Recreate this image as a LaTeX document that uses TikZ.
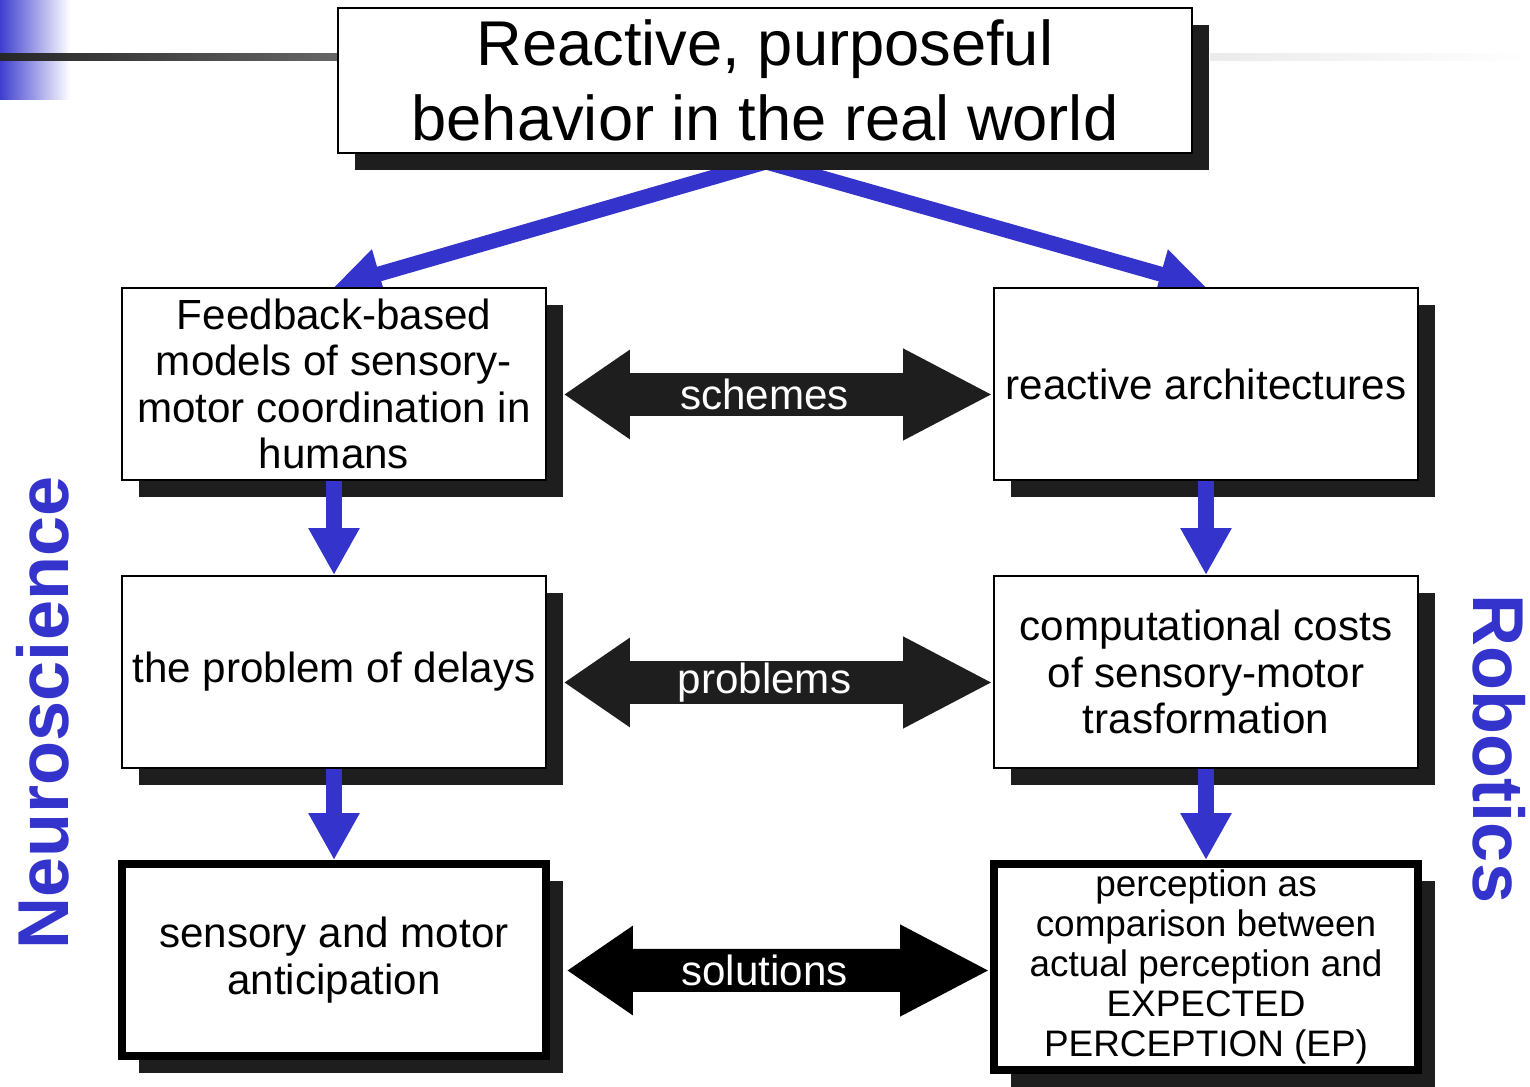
\documentclass[tikz,border=0pt]{standalone}
\usepackage{fontspec}
\setmainfont{Liberation Sans}
\usetikzlibrary{arrows.meta,shadows,backgrounds}
\definecolor{slideblue}{RGB}{52,52,204}
\definecolor{shadowgray}{RGB}{30,30,30}

\begin{document}
\begin{tikzpicture}[x=0.02cm, y=0.02cm,
  card/.style={draw=black, line width=1.1pt, fill=white, inner sep=0pt,
    minimum width=8.48cm, minimum height=3.84cm, align=center,
    font=\fontsize{24}{26.4}\selectfont,
    drop shadow={shadow xshift=0.34cm, shadow yshift=-0.34cm, fill=shadowgray, opacity=1}},
  boldcard/.style={card, line width=4.5pt},
  flow/.style={draw=slideblue, line width=0.32cm, -{Triangle[width=0.96cm, length=0.94cm]}},
  slant/.style={flow, line width=0.3cm},
  link/.style={draw=shadowgray, line width=0.86cm,
    {Triangle[width=1.7cm, length=1.32cm]}-{Triangle[width=1.7cm, length=1.8cm]}},
  linktext/.style={text=white, xshift=-0.28cm, font=\fontsize{24}{26.4}\selectfont},
  side/.style={text=slideblue, font=\fontsize{41}{45}\selectfont\bfseries}]
  \useasboundingbox (0,0) rectangle (1530,1087);

  % Slide header
  \shade[left color=slideblue!95, right color=white] (0,1087) rectangle (70,987);
  \shade[left color=black!85, right color=black!60] (0,1033) rectangle (338,1026);
  \shade[left color=black!8, right color=white] (1210,1033) rectangle (1530,1026);

  % Boxes
  \node[card, font=\fontsize{36}{43.1}\selectfont, minimum width=17.08cm, minimum height=2.9cm]
    (goal) at (765,1006.5) {Reactive, purposeful\\behavior in the real world};
  \node[card] (feedback) at (334,703) {Feedback-based\\models of sensory-\\motor coordination in\\humans};
  \node[card] (reactive) at (1206,703) {reactive architectures};
  \node[card] (delays) at (334,415) {the problem of delays};
  \node[card] (costs) at (1206,415) {computational costs\\of sensory-motor\\trasformation};
  \node[boldcard] (anticip) at (334,127) {sensory and motor\\anticipation};
  \node[boldcard, minimum height=4.12cm, font=\fontsize{21}{22.7}\selectfont]
    (expect) at (1206,120) {perception as\\comparison between\\actual perception and\\EXPECTED\\PERCEPTION (EP)};

  % Split from the goal
  \coordinate (fork) at (766,925);
  \begin{pgfonlayer}{background}
    \draw[slant] (fork) -- (feedback.north);
    \draw[slant] (fork) -- (reactive.north);
  \end{pgfonlayer}

  % Downward steps
  \draw[flow] (feedback.south) -- (delays.north);
  \draw[flow] (delays.south) -- (anticip.north);
  \draw[flow] (reactive.south) -- (costs.north);
  \draw[flow] (costs.south) -- (expect.north);

  % Links between the two fields
  \draw[link] ([xshift=0.34cm, yshift=-0.21cm]feedback.east) -- ([yshift=-0.21cm]reactive.west)
    node[midway, linktext] {schemes};
  \draw[link] ([xshift=0.34cm, yshift=-0.21cm]delays.east) -- ([yshift=-0.21cm]costs.west)
    node[midway, linktext] {problems};
  \draw[link, draw=black] ([xshift=0.34cm, yshift=-0.21cm]anticip.east) -- ([yshift=-0.07cm]expect.west)
    node[midway, linktext] {solutions};

  % Field names
  \node[side, rotate=90] (neuro) at (43,374) {Neuroscience};
  \node[side, rotate=-90] (robot) at (1499,338) {Robotics};
\end{tikzpicture}
\end{document}
